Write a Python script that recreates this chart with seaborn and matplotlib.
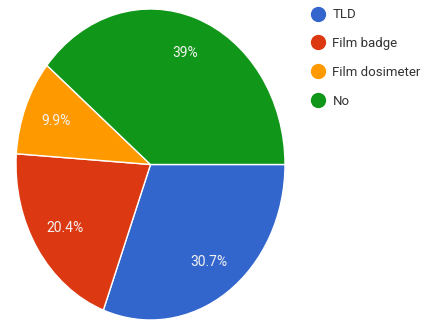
import matplotlib
matplotlib.use("Agg")
import matplotlib.pyplot as plt
from matplotlib.lines import Line2D
import seaborn as sns

# Dosimeter usage survey responses (percent)
categories = ["TLD", "Film badge", "Film dosimeter", "No"]
shares = [30.7, 20.4, 9.9, 39.0]
colors = ["#3366CC", "#DC3912", "#FF9900", "#109618"]

sns.set_theme(style="white")
plt.rcParams["font.family"] = ["Roboto", "DejaVu Sans"]

fig = plt.figure(figsize=(4.41, 3.25), dpi=100)
ax = fig.add_axes([16 / 441, 5 / 325, 269 / 441, 311 / 325])


def pct_label(p):
    s = f"{p:.1f}"
    if s.endswith(".0"):
        s = s[:-2]
    return s + "%"


wedges, texts, autotexts = ax.pie(
    shares,
    colors=colors,
    startangle=0,
    counterclock=False,
    autopct=pct_label,
    pctdistance=0.76,
    wedgeprops=dict(edgecolor="white", linewidth=1.0),
    textprops=dict(color="#f2f2f2", fontsize=10),
)
ax.set_aspect("auto")
ax.set_xlim(-1, 1)
ax.set_ylim(-1, 1)
ax.axis("off")

handles = [
    Line2D([0], [0], marker="o", linestyle="none", markersize=10,
           markerfacecolor=c, markeredgecolor=c)
    for c in colors
]
fig.legend(
    handles, categories,
    loc="upper left",
    bbox_to_anchor=(306 / 441, 1 - 3 / 325),
    frameon=False,
    fontsize=9.5,
    labelcolor="#333333",
    handlelength=1.0,
    handletextpad=0.6,
    labelspacing=1.2,
    borderaxespad=0,
)

fig.savefig("out.png", dpi=100, facecolor="white")
